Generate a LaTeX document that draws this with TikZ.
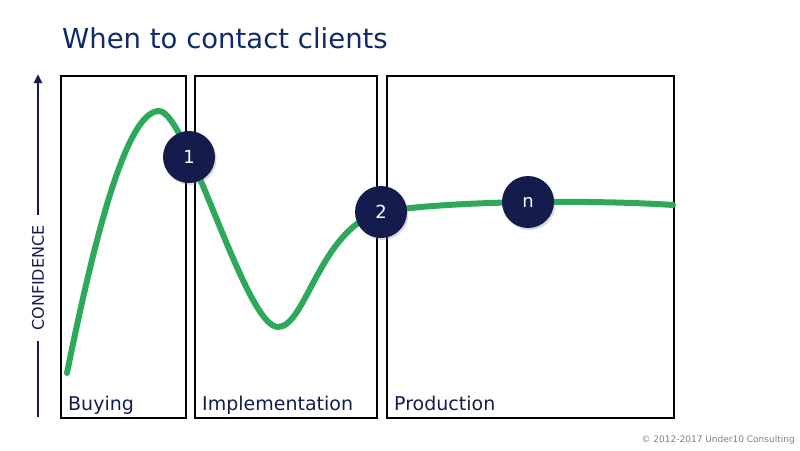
\documentclass[tikz,border=0pt]{standalone}
\usepackage{fontspec}
\setmainfont{DejaVu Sans}
\usepackage{xcolor}
\usepackage{tikz}
\usetikzlibrary{arrows.meta, positioning, shadows}

\definecolor{navy}{HTML}{141B4D}
\definecolor{titleblue}{HTML}{0E2A6A}
\definecolor{curvegreen}{HTML}{2EA85A}

\begin{document}
\begin{tikzpicture}[
        x=1pt, y=-1pt,
        phase/.style={rectangle, draw, line width=1.8pt, anchor=north west, minimum height=342pt, inner sep=0pt},
        phaselbl/.style={anchor=base west, font=\fontsize{19}{21}\selectfont, text=navy, inner sep=0pt, xshift=8pt, yshift=8pt},
        milestone/.style={circle, fill=navy, minimum size=52pt, inner sep=0pt, text=white, font=\fontsize{18}{20}\selectfont, drop shadow={opacity=0.3, shadow xshift=1.5pt, shadow yshift=-2pt}},
        axis/.style={line width=2.4pt, draw=navy},
        curve/.style={line width=6pt, draw=curvegreen, line cap=round},
    ]
        \useasboundingbox (0,0) rectangle (800,450);

        % Title
        \node[anchor=west, inner sep=0pt, text=titleblue, font=\fontsize{27.5}{30}\selectfont] (title) at (62,38) {When to contact clients};

        % Phases
        \node[phase, minimum width=125pt] (buying) at (60,75) {};
        \node[phase, minimum width=182pt] (impl) at (194,75) {};
        \node[phase, minimum width=287pt] (prod) at (386,75) {};
        \node[phaselbl] (buyinglbl) at (buying.south west) {Buying};
        \node[phaselbl] (impllbl) at (impl.south west) {Implementation};
        \node[phaselbl] (prodlbl) at (prod.south west) {Production};

        % Confidence axis
        \coordinate (axisbot) at (38,417);
        \coordinate (axistop) at (38,74);
        \node[rotate=90, text=navy, inner sep=10pt, font=\fontsize{16}{17}\selectfont] (conf) at (38,278) {CONFIDENCE};
        \draw[axis] (axisbot) -- (conf.west);
        \draw[axis, -{Triangle[length=9pt, width=8pt]}] (conf.east) -- (axistop);

        % Confidence curve
        \draw[curve] (67,373) .. controls (92,250) and (125,111) .. (159,111)
            .. controls (187,111) and (245,327) .. (278,327)
            .. controls (306,327) and (320,228) .. (381,212)
            .. controls (450,200) and (600,200) .. (673,205);

        % Contact points
        \node[milestone] (m1) at (189,157) {1};
        \node[milestone] (m2) at (381,212) {2};
        \node[milestone] (mn) at (528,202) {n};

        % Footer
        \node[anchor=east, inner sep=0pt, text=gray, font=\fontsize{9}{10}\selectfont] (copy) at (795,440) {© 2012-2017 Under10 Consulting};
    \end{tikzpicture}
\end{document}
